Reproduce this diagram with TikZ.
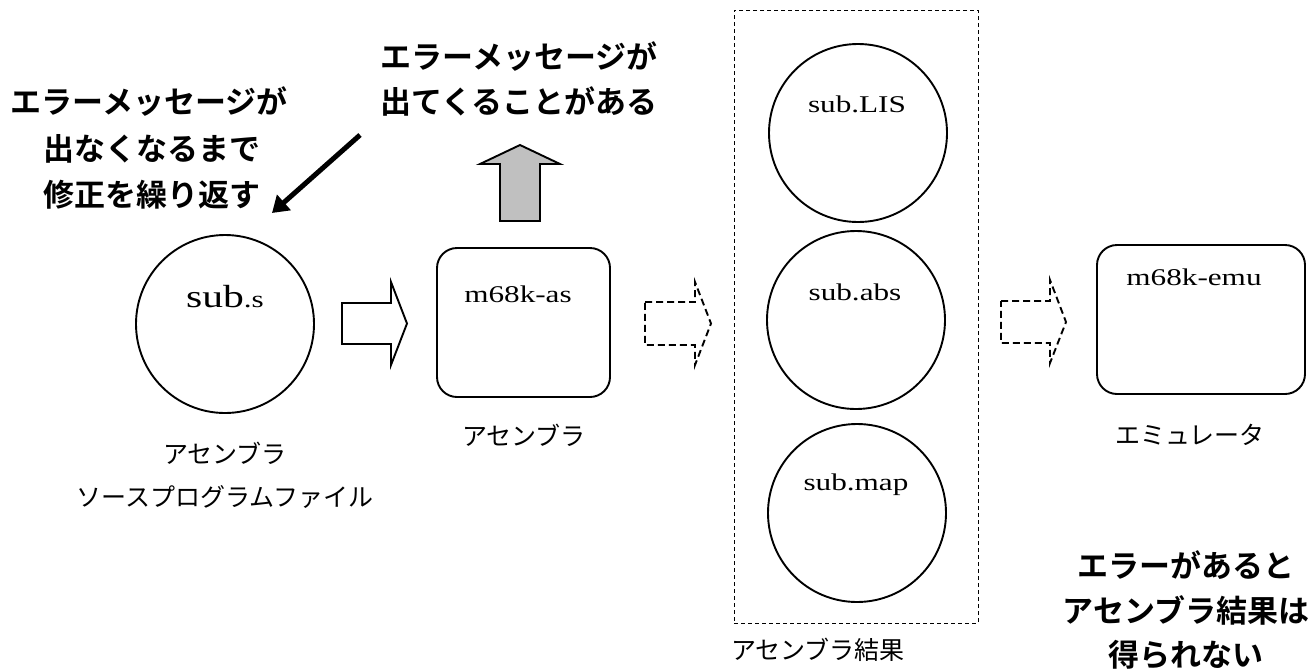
\documentclass[tikz,border=0pt]{standalone}
\usepackage{fontspec}
\newfontfamily\lat{Liberation Serif}[FakeStretch=1.3]
\newfontfamily\jp{Noto Sans CJK JP}[BoldFont={Noto Sans CJK JP Bold}]
\usetikzlibrary{arrows.meta}
\begin{document}
\begin{tikzpicture}[x=1pt,y=-1pt,
  filecircle/.style={draw,circle,line width=1.9pt,minimum size=178pt,inner sep=0pt},
  toolbox/.style={draw,rounded corners=20pt,line width=1.9pt,inner sep=0pt},
  latlabel/.style={anchor=base,inner sep=0pt,font=\lat\fontsize{24}{24}\selectfont},
  jplabel/.style={inner sep=0pt,font=\jp\fontsize{25}{25}\selectfont},
  jpnote/.style={inner sep=0pt,font=\jp\bfseries\fontsize{31}{31}\selectfont},
  blockarrow/.style={draw,line width=1.9pt,line join=miter},
  dasharrow/.style={draw,line width=1.9pt,dash pattern=on 7pt off 4pt},
]
\useasboundingbox (0,0) rectangle (1311,670);

% source file
\node[filecircle] (src) at (225,324) {};
\node[anchor=base,inner sep=0pt] (srcname) at (225,307)
  {\lat{\fontsize{32}{32}\selectfont sub}{\fontsize{24}{24}\selectfont .s}};
\node[jplabel] (srclab1) at (225,453) {アセンブラ};
\node[jplabel] (srclab2) at (225,497) {ソースプログラムファイル};

% assembler
\node[toolbox,minimum width=173pt,minimum height=149pt] (as) at (523.5,322.5) {};
\node[latlabel] (asname) at (518,302) {m68k-as};
\node[jplabel] (aslab) at (524,435) {アセンブラ};

% emulator
\node[toolbox,minimum width=208pt,minimum height=149pt] (emu) at (1201,319.5) {};
\node[latlabel] (emuname) at (1194,285) {m68k-emu};
\node[jplabel] (emulab) at (1190,435) {エミュレータ};

% assembler output group
\node[draw,line width=0.9pt,dash pattern=on 4pt off 3pt,minimum width=244pt,minimum height=613pt,inner sep=0pt] (group) at (856,316.5) {};
\node[filecircle] (lis) at (858,133) {};
\node[filecircle] (abs) at (856,320) {};
\node[filecircle] (map) at (857,513) {};
\node[latlabel] (lisname) at (857,112) {sub.LIS};
\node[latlabel] (absname) at (855,300) {sub.abs};
\node[latlabel] (mapname) at (856,490) {sub.map};
\node[jplabel] (grouplab) at (818,650) {アセンブラ結果};

% block arrows
\path[blockarrow] (342,303) -- (391,303) -- (391,282) -- (407,323.5) -- (391,365) -- (391,344) -- (342,344) -- cycle;
\path[dasharrow] (645,302) -- (695,302) -- (695,282) -- (711,323.5) -- (695,365) -- (695,345) -- (645,345) -- cycle;
\path[dasharrow] (1001,301) -- (1050,301) -- (1050,280) -- (1066,322) -- (1050,363) -- (1050,343) -- (1001,343) -- cycle;
\path[blockarrow,fill={rgb,255:red,192;green,192;blue,192}] (500,221) -- (500,164) -- (480,164) -- (520,145) -- (560,164) -- (540,164) -- (540,221) -- cycle;

% notes
\node[jpnote] (fix1) at (149,102) {エラーメッセージが};
\node[jpnote] (fix2) at (152,149) {出なくなるまで};
\node[jpnote] (fix3) at (152,195) {修正を繰り返す};
\node[jpnote] (msg1) at (519,57) {エラーメッセージが};
\node[jpnote] (msg2) at (519,101) {出てくることがある};
\node[jpnote] (err1) at (1186,565) {エラーがあると};
\node[jpnote] (err2) at (1186,610) {アセンブラ結果は};
\node[jpnote] (err3) at (1186,655) {得られない};

\coordinate (fixstart) at (360,135);
\coordinate (fixend) at (272,213);
\draw[line width=5pt,-{Triangle[length=16pt,width=20pt]}] (fixstart) -- (fixend);
\end{tikzpicture}
\end{document}
